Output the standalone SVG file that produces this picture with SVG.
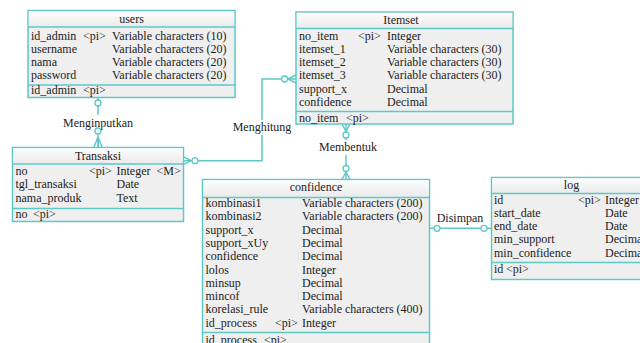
<svg xmlns="http://www.w3.org/2000/svg" width="640" height="343" viewBox="0 0 640 343" font-family="'Liberation Serif', 'DejaVu Serif', serif">
<defs>
<linearGradient id="hdr" x1="0" y1="0" x2="0" y2="1"><stop offset="0" stop-color="#fdfdfd"/><stop offset="1" stop-color="#ebebeb"/></linearGradient>
</defs>
<style>
.box{fill:#efefef;stroke:#5cc9c6;stroke-width:1.5}
.hd{fill:url(#hdr);stroke:none}
.sep{stroke:#5cc9c6;stroke-width:1.5}
text{font-family:'Liberation Serif','DejaVu Serif',serif;font-size:12px;fill:#222}
.c{text-anchor:middle}
.ln{fill:none;stroke:#5cc9c6;stroke-width:1.5}
.o{fill:#fff;stroke:#5cc9c6;stroke-width:1.3}
.lbl{fill:#fff}
</style>
<rect width="640" height="343" fill="#fff"/>

<g id="connectors">
  <line class="ln" x1="98" y1="97" x2="98" y2="147"/>
  <rect class="lbl" x="60" y="115" width="78" height="15"/>
  <text class="c" x="98" y="127">Menginputkan</text>
  <circle class="o" cx="98" cy="103" r="3"/>
  <circle class="o" cx="98" cy="131" r="3"/>
  <path class="ln" d="M98,137 L94,147 M98,137 L98,147 M98,137 L102,147"/>
  <path class="ln" d="M183,160.7 H262 V79 H296"/>
  <rect class="lbl" x="228" y="120" width="68" height="15"/>
  <text class="c" x="262" y="131">Menghitung</text>
  <path class="ln" d="M191,160.7 L183,156.7 M191,160.7 L183,164.7"/>
  <circle class="o" cx="195" cy="160.7" r="3"/>
  <path class="ln" d="M288,79 L296,75 M288,79 L296,83"/>
  <circle class="o" cx="284.5" cy="79" r="3"/>
  <line class="ln" x1="346" y1="124" x2="346" y2="179.5"/>
  <rect class="lbl" x="316" y="140" width="64" height="15"/>
  <text class="c" x="348" y="151">Membentuk</text>
  <path class="ln" d="M346,131.5 L342,124 M346,131.5 L350,124"/>
  <circle class="o" cx="346" cy="135" r="3"/>
  <circle class="o" cx="346" cy="168.5" r="3"/>
  <path class="ln" d="M346,172 L342,179.5 M346,172 L350,179.5"/>
  <line class="ln" x1="429.5" y1="228.3" x2="491.5" y2="228.3"/>
  <text class="c" x="460" y="222">Disimpan</text>
  <circle class="o" cx="437" cy="228.3" r="3"/>
  <circle class="o" cx="484" cy="228.3" r="3"/>
</g>

<g id="users">
  <rect class="box" x="28" y="10.5" width="207" height="87"/>
  <rect class="hd" x="28.75" y="11.25" width="205.5" height="15"/>
  <line class="sep" x1="28" y1="27" x2="235" y2="27"/>
  <line class="sep" x1="28" y1="85" x2="235" y2="85"/>
  <text class="c" x="131.5" y="22.5">users</text>
  <text x="31" y="39.5">id_admin</text><text x="83" y="39.5">&lt;pi&gt;</text><text x="112" y="39.5">Variable characters (10)</text>
  <text x="31" y="52.8">username</text><text x="112" y="52.8">Variable characters (20)</text>
  <text x="31" y="66.1">nama</text><text x="112" y="66.1">Variable characters (20)</text>
  <text x="31" y="79.4">password</text><text x="112" y="79.4">Variable characters (20)</text>
  <text x="31" y="94">id_admin</text><text x="83" y="94">&lt;pi&gt;</text>
</g>

<g id="itemset">
  <rect class="box" x="296" y="12" width="217" height="112"/>
  <rect class="hd" x="296.75" y="12.75" width="215.5" height="15"/>
  <line class="sep" x1="296" y1="28.5" x2="513" y2="28.5"/>
  <line class="sep" x1="296" y1="111.5" x2="513" y2="111.5"/>
  <text class="c" x="401" y="23.5">Itemset</text>
  <text x="299" y="39.5">no_item</text><text x="358" y="39.5">&lt;pi&gt;</text><text x="387" y="39.5">Integer</text>
  <text x="299" y="52.8">itemset_1</text><text x="387" y="52.8">Variable characters (30)</text>
  <text x="299" y="66.1">itemset_2</text><text x="387" y="66.1">Variable characters (30)</text>
  <text x="299" y="79.4">itemset_3</text><text x="387" y="79.4">Variable characters (30)</text>
  <text x="299" y="92.7">support_x</text><text x="387" y="92.7">Decimal</text>
  <text x="299" y="106">confidence</text><text x="387" y="106">Decimal</text>
  <text x="299" y="122">no_item</text><text x="346" y="122">&lt;pi&gt;</text>
</g>

<g id="transaksi">
  <rect class="box" x="12.5" y="147.5" width="171" height="74"/>
  <rect class="hd" x="13.25" y="148.25" width="169.5" height="15"/>
  <line class="sep" x1="12.5" y1="164" x2="183.5" y2="164"/>
  <line class="sep" x1="12.5" y1="208.5" x2="183.5" y2="208.5"/>
  <text class="c" x="98" y="159.5">Transaksi</text>
  <text x="15.5" y="175">no</text><text x="89" y="175">&lt;pi&gt;</text><text x="116.5" y="175">Integer</text><text x="156.5" y="175">&lt;M&gt;</text>
  <text x="15.5" y="188.3">tgl_transaksi</text><text x="116.5" y="188.3">Date</text>
  <text x="15.5" y="201.6">nama_produk</text><text x="116.5" y="201.6">Text</text>
  <text x="15.5" y="218">no</text><text x="33" y="218">&lt;pi&gt;</text>
</g>

<g id="confidence">
  <rect class="box" x="202.5" y="179.5" width="227" height="175"/>
  <rect class="hd" x="203.25" y="180.25" width="225.5" height="16.5"/>
  <line class="sep" x1="202.5" y1="197.5" x2="429.5" y2="197.5"/>
  <line class="sep" x1="202.5" y1="332.5" x2="429.5" y2="332.5"/>
  <text class="c" x="316" y="191">confidence</text>
  <text x="205.5" y="207">kombinasi1</text><text x="302" y="207">Variable characters (200)</text>
  <text x="205.5" y="220.3">kombinasi2</text><text x="302" y="220.3">Variable characters (200)</text>
  <text x="205.5" y="233.6">support_x</text><text x="302" y="233.6">Decimal</text>
  <text x="205.5" y="246.9">support_xUy</text><text x="302" y="246.9">Decimal</text>
  <text x="205.5" y="260.2">confidence</text><text x="302" y="260.2">Decimal</text>
  <text x="205.5" y="273.5">lolos</text><text x="302" y="273.5">Integer</text>
  <text x="205.5" y="286.8">minsup</text><text x="302" y="286.8">Decimal</text>
  <text x="205.5" y="300.1">mincof</text><text x="302" y="300.1">Decimal</text>
  <text x="205.5" y="313.4">korelasi_rule</text><text x="302" y="313.4">Variable characters (400)</text>
  <text x="205.5" y="326.7">id_process</text><text x="275" y="326.7">&lt;pi&gt;</text><text x="302" y="326.7">Integer</text>
  <text x="205.5" y="344">id_process</text><text x="264" y="344">&lt;pi&gt;</text>
</g>

<g id="log">
  <rect class="box" x="491.5" y="177.5" width="200" height="102"/>
  <rect class="hd" x="492.25" y="178.25" width="198.5" height="14.5"/>
  <line class="sep" x1="491.5" y1="193.5" x2="691.5" y2="193.5"/>
  <line class="sep" x1="491.5" y1="262.5" x2="691.5" y2="262.5"/>
  <text class="c" x="571.5" y="188.5">log</text>
  <text x="494" y="203.5">id</text><text x="578" y="203.5">&lt;pi&gt;</text><text x="605" y="203.5">Integer</text>
  <text x="494" y="216.8">start_date</text><text x="605" y="216.8">Date</text>
  <text x="494" y="230.1">end_date</text><text x="605" y="230.1">Date</text>
  <text x="494" y="243.4">min_support</text><text x="605" y="243.4">Decimal</text>
  <text x="494" y="256.7">min_confidence</text><text x="605" y="256.7">Decimal</text>
  <text x="494" y="273">id</text><text x="506" y="273">&lt;pi&gt;</text>
</g>
</svg>
